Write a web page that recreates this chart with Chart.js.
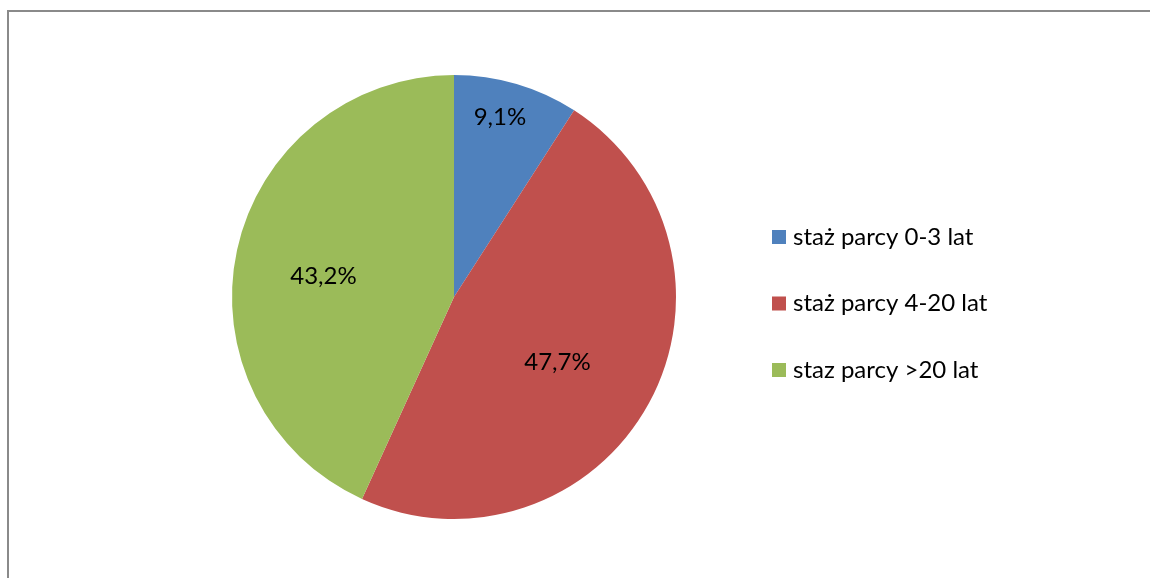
<!DOCTYPE html>
<html lang="pl">
<head>
<meta charset="UTF-8" />
<title>Staż pracy</title>
<script src="https://cdn.jsdelivr.net/npm/chart.js"></script>
<style>
  html, body { margin: 0; padding: 0; background: #fff; }
  #wrap { width: 1150px; height: 578px; }
</style>
</head>
<body>
<div id="wrap"><canvas id="pie" width="1150" height="578"></canvas></div>
<script>
// dane wykresu
const categories = ['staż parcy 0-3 lat', 'staż parcy 4-20 lat', 'staz parcy >20 lat'];
const shares = [9.1, 47.7, 43.2];
const colors = ['#4F81BD', '#C0504D', '#9BBB59'];

const FONT = '24px Lato, "Open Sans", sans-serif';

// ramka wokół obszaru wykresu
const frame = {
  id: 'frame',
  beforeDraw(chart) {
    const c = chart.ctx;
    c.save();
    c.strokeStyle = '#8a8a8a';
    c.lineWidth = 2;
    c.strokeRect(8, 11, 1300, 1000);
    c.restore();
  }
};

// etykiety procentowe na wycinkach
const sliceLabels = {
  id: 'sliceLabels',
  afterDatasetsDraw(chart, args, opts) {
    const c = chart.ctx;
    const meta = chart.getDatasetMeta(0);
    c.save();
    c.font = FONT;
    c.fillStyle = '#000';
    c.textAlign = 'center';
    c.textBaseline = 'middle';
    meta.data.forEach((arc, i) => {
      const p = arc.getProps(['x', 'y', 'startAngle', 'endAngle', 'outerRadius'], true);
      const mid = (p.startAngle + p.endAngle) / 2 + (opts.shift[i] || 0);
      const r = p.outerRadius * opts.radius[i];
      const txt = shares[i].toFixed(1).replace('.', ',') + '%';
      c.fillText(txt, p.x + Math.cos(mid) * r, p.y + Math.sin(mid) * r);
    });
    c.restore();
  }
};

// legenda po prawej stronie
const sideLegend = {
  id: 'sideLegend',
  afterDraw(chart, args, opts) {
    const c = chart.ctx;
    c.save();
    c.font = FONT;
    c.textBaseline = 'middle';
    categories.forEach((name, i) => {
      const y = opts.top + i * opts.step;
      c.fillStyle = colors[i];
      c.fillRect(opts.x, y - 7, 14, 14);
      c.fillStyle = '#000';
      c.fillText(name, opts.x + 21, y);
    });
    c.restore();
  }
};

new Chart(document.getElementById('pie'), {
  type: 'pie',
  data: {
    labels: categories,
    datasets: [{
      data: shares,
      backgroundColor: colors,
      borderWidth: 0
    }]
  },
  options: {
    responsive: false,
    animation: false,
    layout: { padding: { left: 232, right: 474, top: 75, bottom: 59 } },
    plugins: {
      legend: { display: false },
      tooltip: { enabled: false },
      sliceLabels: { radius: [0.837, 0.55, 0.595], shift: [-0.036, 0.06, -0.058] },
      sideLegend: { x: 772, top: 237, step: 66.5 }
    }
  },
  plugins: [frame, sliceLabels, sideLegend]
});
</script>
</body>
</html>
